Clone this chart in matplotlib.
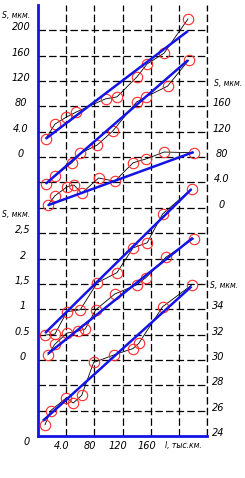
import matplotlib
matplotlib.use("Agg")
import matplotlib.pyplot as plt
import matplotlib.transforms as mtransforms

# wear S vs run l (thousand km)
# upper group: A on the left scale, B and C on the right scale
a_l = [11, 24, 40, 54, 96, 112, 140, 155, 179, 213]
a_s = [29, 52, 63, 71, 92, 95, 126, 147, 164, 218]
a_trend_l = [11, 213]
a_trend_s = [29, 199]

b_l = [11, 24, 48, 60, 84, 106, 140, 153, 184, 214]
b_s = [38, 50, 71, 86, 99, 121, 167, 175, 192, 233]
b_trend_l = [11, 213]
b_trend_s = [38, 233]

c_l = [14, 24, 41, 51, 62, 86, 109, 135, 153, 179, 221]
c_s = [4, 19, 33, 36, 23, 47, 42, 71, 77, 88, 87]
c_trend_l = [14, 221]
c_trend_s = [4, 88]

# middle group, left scale
d_l = [10, 24, 41, 60, 84, 112, 135, 155, 177, 218]
d_s = [0.49, 0.51, 0.95, 0.99, 1.52, 1.72, 2.21, 2.31, 2.88, 3.37]
d_trend_l = [10, 218]
d_trend_s = [0.53, 3.37]

e_l = [14, 24, 41, 57, 67, 82, 109, 140, 153, 182, 221]
e_s = [0.10, 0.31, 0.53, 0.57, 0.61, 0.99, 1.30, 1.48, 1.62, 2.03, 2.39]
e_trend_l = [14, 220]
e_trend_s = [0.12, 2.41]

# lower group, right scale
f_l = [10, 18, 40, 50, 62, 79, 108, 135, 143, 177, 218]
f_s = [24.9, 26.0, 27.0, 26.6, 27.2, 29.8, 30.4, 30.9, 31.3, 34.2, 35.9]
f_trend_l = [7, 218]
f_trend_s = [25.2, 35.8]

up_left_ticks = ["200", "160", "120", "80", "4.0", "0"]
up_right_ticks = ["160", "120", "80", "4.0", "0"]
mid_left_ticks = ["2,5", "2", "1,5", "1", "0.5", "0"]
low_right_ticks = ["34", "32", "30", "28", "26", "24"]
x_ticks = [40, 80, 120, 160]
x_tick_labels = ["4.0", "80", "120", "160"]


def up_left(v):
    return [11 + s / 40 for s in v]


def up_right(v):
    return [9 + s / 40 for s in v]


def mid_left(v):
    return [3 + s / 0.5 for s in v]


def low_right(v):
    return [(s - 24) / 2 for s in v]


BLUE = "#1414e6"
RED = "#ff2a2a"
FONT = dict(family=["DejaVu Sans"], style="italic", fontsize=7)
SMALL = dict(family=["DejaVu Sans"], style="italic", fontsize=5.5)

fig = plt.figure(figsize=(2.45, 4.78), dpi=100)
ax = fig.add_axes([38 / 245, 42 / 478, 169 / 245, 431 / 478])
ax.set_xlim(0, 240)
ax.set_ylim(0, 17)

ax.set_xticks(range(40, 241, 40))
ax.set_yticks(range(1, 17))
ax.tick_params(length=0, labelleft=False, labelbottom=False)
ax.grid(color="black", linestyle=(0, (6, 2.5)), linewidth=0.9)
ax.axvline(240, color="black", linestyle=(0, (6, 2.5)), linewidth=0.9, clip_on=False)
ax.spines["top"].set_visible(False)
ax.spines["right"].set_visible(False)
for side in ["left", "bottom"]:
    ax.spines[side].set_color(BLUE)
    ax.spines[side].set_linewidth(2)

series = [
    (a_l, up_left(a_s), a_trend_l, up_left(a_trend_s)),
    (b_l, up_right(b_s), b_trend_l, up_right(b_trend_s)),
    (c_l, up_right(c_s), c_trend_l, up_right(c_trend_s)),
    (d_l, mid_left(d_s), d_trend_l, mid_left(d_trend_s)),
    (e_l, mid_left(e_s), e_trend_l, mid_left(e_trend_s)),
    (f_l, low_right(f_s), f_trend_l, low_right(f_trend_s)),
]
for xs, ys, tx, ty in series:
    ax.plot(xs, ys, color="black", linewidth=0.6, zorder=2)
    ax.plot(xs, ys, linestyle="none", marker="o", markersize=7.5,
            markerfacecolor="none", markeredgecolor=RED, markeredgewidth=0.8, zorder=3)
    ax.plot(tx, ty, color=BLUE, linewidth=1.8, zorder=4, solid_capstyle="butt")

# axis texts (x in axes fraction, y in grid units)
trans = mtransforms.blended_transform_factory(ax.transAxes, ax.transData)
fx_left = (21 - 38) / 169
fx_right = (222 - 38) / 169
lift = 3 / 25.35

ax.text((2 - 38) / 169, 16.6, "S, мкм.", transform=trans, ha="left", va="center", **SMALL)
for i, t in enumerate(up_left_ticks):
    ax.text(fx_left, 16 - i + lift, t, transform=trans, ha="center", va="center", **FONT)

ax.text((214 - 38) / 169, 13.9, "S, мкм.", transform=trans, ha="left", va="center", **SMALL)
for i, t in enumerate(up_right_ticks):
    ax.text(fx_right, 13 - i + lift, t, transform=trans, ha="center", va="center", **FONT)

ax.text((2 - 38) / 169, 8.72, "S, мкм.", transform=trans, ha="left", va="center", **SMALL)
for i, t in enumerate(mid_left_ticks):
    ax.text(fx_left + 0.01, 8 - i + lift, t, transform=trans, ha="center", va="center", **FONT)

ax.text((210 - 38) / 169, 5.95, "S, мкм.", transform=trans, ha="left", va="center", **SMALL)
for i, t in enumerate(low_right_ticks):
    ax.text((212 - 38) / 169, 5 - i + lift, t, transform=trans, ha="left", va="center", **FONT)

ax.text((27 - 38) / 169, -0.25, "0", transform=trans, ha="center", va="center", **FONT)
for xv, t in zip(x_ticks, x_tick_labels):
    ax.text(xv - 6, -0.4, t, ha="center", va="center", clip_on=False, **FONT)
ax.text(180, -0.37, "l, тыс.км.", ha="left", va="center", clip_on=False, **SMALL)

fig.savefig("out.png", dpi=100)
